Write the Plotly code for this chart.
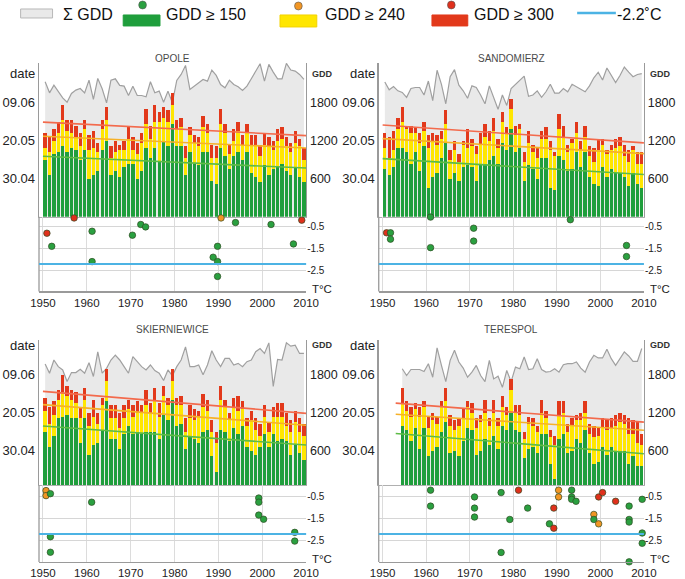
import plotly.graph_objects as go

# ------------------------------------------------------------------ data
YEARS = list(range(1950, 2010))
YEARS_TERESPOL = list(range(1954, 2010))

# day of year on which GDD reached 150 / 240 / 300
OPOLE_D150 = [130,122,133,134,137,134,136,135,130,135, 120,122,124,135,140,122,124,121,126,128,
              128,120,124,136,131,136,129,140,137,149, 137,137,122,134,128,127,134,134,119,117,
              136,132,125,132,134,130,134,123,121,118, 127,122,125,126,128,124,122,126,121,118]
OPOLE_D240 = [136,134,140,144,151,145,144,142,137,146, 135,136,134,146,151,131,134,135,135,141,
              135,133,139,149,141,150,150,152,150,159, 146,147,131,143,139,137,147,144,131,131,
              149,144,133,140,145,138,144,137,138,132, 138,137,135,140,141,137,134,139,137,130]
OPOLE_D300 = [144,142,146,150,159,151,151,148,144,151, 143,145,139,151,158,137,140,138,140,147,
              142,139,144,157,148,159,155,158,156,165, 151,152,137,147,143,142,153,149,138,137,
              157,149,138,146,150,143,149,143,143,138, 144,142,140,146,147,142,139,145,141,136]
OPOLE_GDD = [2133,1958,2080,1985,1879,1810,1948,2001,2027,1958, 2159,1853,2186,2022,1800,2159,2180,2075,2064,1916,
             2064,1916,1916,1895,2133,1958,1985,1810,1985,1800, 2154,2249,2392,2011,2064,2117,2170,2143,2318,2233,
             2090,2038,2159,2090,2053,1995,2064,2180,2302,2418, 2143,2408,2286,2180,2180,2424,2318,2302,2249,2170]
OPOLE_TREND_YEARS = [1950, 2010]
OPOLE_TREND_150 = [131.8, 125.6]
OPOLE_TREND_240 = [142.4, 136.2]
OPOLE_TREND_300 = [149.8, 142.7]
OPOLE_FROST_X = [1950.9,1952.0,1957.1,1961.2,1961.2,1970.4,1972.3,1973.4,1988.8,1989.8,1989.8,1989.8,
                 1990.6,1993.9,2002.0,2007.1,2009.0]
OPOLE_FROST_T = [-0.79,-1.39,-0.09,-0.70,-2.09,-0.88,-0.39,-0.50,-1.89,-1.39,-2.09,-2.77,
                 -0.09,-0.30,-0.39,-1.28,-0.19]
OPOLE_FROST_CLASS = [300,150,300,150,150,150,150,150,150,150,150,150,240,150,150,150,300]

SANDOMIERZ_D150 = [125,122,126,136,136,134,128,134,124,137, 115,121,123,131,139,120,123,119,126,127,
                   126,119,127,128,130,132,128,139,135,146, 134,136,119,127,125,120,131,131,115,114,
                   132,130,124,125,134,126,134,121,117,116, 126,121,125,123,123,121,116,123,117,115]
SANDOMIERZ_D240 = [136,131,135,146,150,146,144,144,139,145, 136,140,138,141,149,130,135,129,138,136,
                   137,133,138,142,140,145,136,150,144,157, 143,146,129,139,134,131,141,141,135,132,
                   146,142,134,139,144,135,142,132,129,135, 138,133,135,136,137,132,129,135,128,128]
SANDOMIERZ_D300 = [144,142,145,152,158,148,148,147,144,150, 143,144,143,145,156,135,140,133,140,146,
                   141,137,144,149,145,152,141,155,147,162, 148,149,134,145,138,136,145,147,140,134,
                   154,148,138,141,150,140,148,137,136,141, 141,135,138,141,142,138,135,137,134,134]
SANDOMIERZ_GDD = [2130,2006,2057,1990,1965,1887,2027,2042,2042,1923, 2145,1836,2315,2093,1785,2212,2325,2078,1990,1872,
                  2068,2042,1923,1785,2068,1887,1697,1923,1759,2027, 2093,2171,2222,1903,1923,1990,1887,1975,2093,1954,
                  1954,2027,1975,2093,2057,2016,1975,2068,2196,2284, 2160,2351,2233,2119,2233,2366,2284,2212,2248,2263]
SANDOMIERZ_TREND_YEARS = [1950, 2010]
SANDOMIERZ_TREND_150 = [130.6, 122.2]
SANDOMIERZ_TREND_240 = [141.1, 133.2]
SANDOMIERZ_TREND_300 = [148.3, 138.9]
SANDOMIERZ_FROST_X = [1950.9,1951.8,1951.8,1961.0,1961.0,1970.9,1970.9,1993.1,2006.0,2006.0]
SANDOMIERZ_FROST_T = [-0.77,-0.77,-1.06,-0.05,-1.45,-0.56,-1.15,-0.17,-1.35,-1.86]
SANDOMIERZ_FROST_CLASS = [300,150,150,150,150,150,150,150,150,150]

SKIERNIEWICE_D150 = [130,122,128,137,138,139,137,137,124,137, 118,123,124,131,146,126,126,121,129,133,
                     129,130,129,130,130,130,126,139,136,147, 133,134,121,127,126,124,130,131,117,109,
                     131,130,125,132,129,133,122,120,118,122, 129,122,129,125,126,125,118,123,119,115]
SKIERNIEWICE_D240 = [141,134,139,147,151,149,147,145,137,147, 133,138,134,144,157,137,137,132,137,142,
                     138,140,140,144,140,146,138,149,144,157, 144,144,130,137,136,138,143,141,130,124,
                     147,143,136,143,141,142,133,136,131,128, 138,130,138,138,138,133,130,135,130,128]
SKIERNIEWICE_D300 = [148,143,146,152,160,154,152,151,143,153, 140,147,140,148,163,144,144,140,144,147,
                     144,146,144,152,145,153,145,154,148,163, 148,149,137,144,142,141,150,147,136,130,
                     154,147,140,148,149,146,137,141,137,134, 144,135,143,145,145,140,136,141,137,134]
SKIERNIEWICE_GDD = [1972,1826,2035,1930,1878,1696,1836,1836,1889,1826, 1993,1774,2165,1826,1904,2035,2113,2035,1930,1826,
                    2087,2009,1930,1878,1956,1868,1826,1711,1878,1784, 1930,2035,2243,1930,1930,1956,1800,1956,2181,2035,
                    1930,2061,2061,1956,1982,1930,2009,2035,2165,2217, 2139,2306,1617,2045,2035,2306,2254,2269,2139,2139]
SKIERNIEWICE_TREND_YEARS = [1950, 2010]
SKIERNIEWICE_TREND_150 = [133.0, 123.0]
SKIERNIEWICE_TREND_240 = [144.3, 133.4]
SKIERNIEWICE_TREND_300 = [151.3, 139.7]
SKIERNIEWICE_FROST_X = [1950.7,1950.7,1951.7,1951.7,1951.7,1961.1,1999.2,1999.2,1999.2,2000.3,
                        2007.4,2007.4,2010.4,2010.4]
SKIERNIEWICE_FROST_T = [-0.21,-0.44,-0.35,-2.32,-3.03,-0.74,-0.55,-0.74,-1.33,-1.52,-2.12,-2.52,-1.04,-1.33]
SKIERNIEWICE_FROST_CLASS = [240,240,150,150,150,150,150,150,150,150,150,150,150,150]

TERESPOL_D150 = [133,131,125,132,121,132,117,120,122,130, 135,119,120,117,125,132,131,118,120,126,
                 123,128,121,133,131,140,131,130,116,121, 122,119,129,129,113,105,126,129,119,120,
                 126,124,131,119,113,114,122,118,122,120, 120,120,113,117,112,112]
TERESPOL_D240 = [145,141,138,142,138,143,132,136,134,143, 146,133,131,133,137,143,140,132,135,140,
                 133,140,133,143,139,152,140,139,126,134, 133,130,140,137,127,123,139,140,130,133,
                 136,136,140,129,127,128,132,131,132,133, 135,134,129,129,124,123]
TERESPOL_D300 = [153,146,143,145,143,146,138,140,138,146, 153,139,136,137,142,146,145,137,139,147,
                 137,147,137,149,143,158,144,144,130,138, 137,133,147,141,131,128,146,146,134,137,
                 139,140,146,134,133,132,137,136,137,139, 140,139,137,136,135,129]
TERESPOL_GDD = [1896,1789,1885,1885,1885,1853,1976,1763,2227,1949, 1693,2029,2189,2003,1907,1763,1843,1949,1789,1693,
                2029,1736,1779,1603,1869,1693,1923,1896,2083,1885, 1896,2056,1885,1843,1853,1896,1843,1960,1976,1976,
                2003,1907,1843,2003,2109,2067,2067,2205,2056,1949, 2067,2163,2099,2013,2013,2216]
TERESPOL_TREND_YEARS = [1953, 2010]
TERESPOL_TREND_150 = [129.1, 118.4]
TERESPOL_TREND_240 = [139.2, 130.8]
TERESPOL_TREND_300 = [145.1, 135.1]
TERESPOL_FROST_X = [1961.0,1961.0,1971.1,1971.1,1971.1,1977.2,1977.2,1979.2,1981.2,1983.3,
                    1988.3,1989.3,1989.3,1990.4,1990.4,1993.4,1993.4,1993.4,1994.4,1998.5,
                    1998.5,1999.6,1999.6,2000.5,2003.5,2006.6,2006.6,2006.6,2006.6,2009.6,2009.6,2009.6]
TERESPOL_FROST_T = [-0.19,-0.92,-0.50,-1.01,-1.42,-0.30,-3.04,-1.53,-0.19,-1.01,
                    -1.73,-1.01,-1.93,-0.19,-0.50,-0.19,-0.50,-0.61,-0.70,-1.30,
                    -1.53,-1.73,-0.50,-0.30,-0.70,-0.92,-1.53,-1.65,-3.47,-0.61,-2.15,-2.62]
TERESPOL_FROST_CLASS = [150,150,150,150,150,150,150,150,300,150,
                        150,300,300,240,240,150,150,150,150,240,
                        150,240,300,300,300,150,150,150,150,150,150,150]

DATE_TICKS = [120, 140, 160]
DATE_LABELS = ["30.04", "20.05", "09.06"]
GDD_TICKS = [600, 1200, 1800]
TEMP_TICKS = [-0.5, -1.5, -2.5]
YEAR_TICKS = [1950, 1960, 1970, 1980, 1990, 2000, 2010]
FROST_LIMIT = -2.2
LEGEND_LABELS = ["\u03a3 GDD", "GDD \u2265 150", "GDD \u2265 240", "GDD \u2265 300", "-2.2\u02daC"]

STATIONS = [
    dict(name="OPOLE", col=0, row=0, years=YEARS, d150=OPOLE_D150, d240=OPOLE_D240, d300=OPOLE_D300,
         gdd=OPOLE_GDD, ty=OPOLE_TREND_YEARS, t150=OPOLE_TREND_150, t240=OPOLE_TREND_240,
         t300=OPOLE_TREND_300, fx=OPOLE_FROST_X, ft=OPOLE_FROST_T, fc=OPOLE_FROST_CLASS),
    dict(name="SANDOMIERZ", col=1, row=0, years=YEARS, d150=SANDOMIERZ_D150, d240=SANDOMIERZ_D240,
         d300=SANDOMIERZ_D300, gdd=SANDOMIERZ_GDD, ty=SANDOMIERZ_TREND_YEARS, t150=SANDOMIERZ_TREND_150,
         t240=SANDOMIERZ_TREND_240, t300=SANDOMIERZ_TREND_300, fx=SANDOMIERZ_FROST_X,
         ft=SANDOMIERZ_FROST_T, fc=SANDOMIERZ_FROST_CLASS),
    dict(name="SKIERNIEWICE", col=0, row=1, years=YEARS, d150=SKIERNIEWICE_D150, d240=SKIERNIEWICE_D240,
         d300=SKIERNIEWICE_D300, gdd=SKIERNIEWICE_GDD, ty=SKIERNIEWICE_TREND_YEARS,
         t150=SKIERNIEWICE_TREND_150, t240=SKIERNIEWICE_TREND_240, t300=SKIERNIEWICE_TREND_300,
         fx=SKIERNIEWICE_FROST_X, ft=SKIERNIEWICE_FROST_T, fc=SKIERNIEWICE_FROST_CLASS),
    dict(name="TERESPOL", col=1, row=1, years=YEARS_TERESPOL, d150=TERESPOL_D150, d240=TERESPOL_D240,
         d300=TERESPOL_D300, gdd=TERESPOL_GDD, ty=TERESPOL_TREND_YEARS, t150=TERESPOL_TREND_150,
         t240=TERESPOL_TREND_240, t300=TERESPOL_TREND_300, fx=TERESPOL_FROST_X,
         ft=TERESPOL_FROST_T, fc=TERESPOL_FROST_CLASS),
]

# ------------------------------------------------------------------ style / geometry
W, H = 685, 579
FONT = "Liberation Sans, Arial, sans-serif"
C_GREEN = "#1f9e3c"
C_YELLOW = "#ffe600"
C_RED = "#e2391b"
C_ORANGE_DOT = "#f29624"
C_RED_DOT = "#e0301c"
C_GREEN_DOT = "#2aa040"
C_AREA = "#e9e9e9"
C_AREA_LINE = "#a0a0a0"
C_BLUE = "#4cb3e4"
C_AXIS = "#9a9a9a"
DOT_COLORS = {150: C_GREEN_DOT, 240: C_ORANGE_DOT, 300: C_RED_DOT}

COLS = [(31, 307), (382, 656)]
ROWS = [
    dict(title_y=59, top=63, mid=217, bot=292, y160=103.0, tref=227.3, tpx=21.85, lab_y=74, tl_y=289),
    dict(title_y=330, top=341, mid=486, bot=563, y160=375.5, tref=497.8, tpx=21.9, lab_y=346, tl_y=560),
]
PX20 = 38.0          # pixels per 20 days (= per 600 GDD)
X_RANGE = [1949.1, 2010.0]


def px(x):
    return x / W


def py(y):
    return 1 - y / H


def ref(prefix, n):
    return prefix if n == 1 else f"{prefix}{n}"


def key(prefix, n):
    return f"{prefix}axis" if n == 1 else f"{prefix}axis{n}"


def label(text, x, y, size, color="#222", xanchor="center"):
    return dict(text=text, x=px(x), y=py(y), xref="paper", yref="paper", xanchor=xanchor,
                yanchor="middle", showarrow=False, font=dict(family=FONT, size=size, color=color))


fig = go.Figure()
layout = {}
shapes = []
annotations = []

for p, st in enumerate(STATIONS):
    c0, c1 = COLS[st["col"]]
    r = ROWS[st["row"]]
    xt, xb = 2 * p + 1, 2 * p + 2
    yg, yd, yt = 3 * p + 1, 3 * p + 2, 3 * p + 3

    def day_at(y):
        return 160 - (y - r["y160"]) * 20 / PX20

    def gdd_at(y):
        return 1800 - (y - r["y160"]) * 600 / PX20

    def temp_at(y):
        return -0.5 - (y - r["tref"]) / r["tpx"]

    xmid = [yr + 0.5 for yr in st["years"]]

    # sum of GDD (grey area)
    fig.add_trace(go.Scatter(x=xmid, y=st["gdd"], mode="lines", fill="tozeroy",
                             fillcolor=C_AREA, line=dict(color=C_AREA_LINE, width=1.2),
                             xaxis=ref("x", xt), yaxis=ref("y", yg), hoverinfo="skip"))
    # stacked bars
    g = st["d150"]
    yel = [b - a for a, b in zip(st["d150"], st["d240"])]
    red = [b - a for a, b in zip(st["d240"], st["d300"])]
    for vals, col in ((g, C_GREEN), (yel, C_YELLOW), (red, C_RED)):
        fig.add_trace(go.Bar(x=xmid, y=vals, width=0.76, marker=dict(color=col, line=dict(width=0)),
                             xaxis=ref("x", xt), yaxis=ref("y", yd), hoverinfo="skip"))
    # trend lines
    for vals, col in ((st["t300"], "#f36a4c"), (st["t240"], "#f6b129"), (st["t150"], "#5dbb46")):
        fig.add_trace(go.Scatter(x=st["ty"], y=vals, mode="lines", line=dict(color=col, width=1.6),
                                 xaxis=ref("x", xt), yaxis=ref("y", yd), hoverinfo="skip"))
    # frost dots
    fig.add_trace(go.Scatter(x=st["fx"], y=st["ft"], mode="markers", cliponaxis=False,
                             marker=dict(size=6.5, color=[DOT_COLORS[c] for c in st["fc"]],
                                         line=dict(color="#2f4a22", width=0.7)),
                             xaxis=ref("x", xb), yaxis=ref("y", yt), hoverinfo="skip"))

    xdom = [px(c0), px(c1)]
    top_dom = [py(r["mid"]), py(r["top"])]
    bot_dom = [py(r["bot"]), py(r["mid"])]
    tick_font = dict(family=FONT, size=13, color="#222")

    layout[key("x", xt)] = dict(domain=xdom, anchor=ref("y", yg), range=X_RANGE, showticklabels=False,
                                showline=True, linecolor="#b0b0b0", linewidth=1, showgrid=False,
                                zeroline=False, ticks="")
    layout[key("y", yg)] = dict(domain=top_dom, anchor=ref("x", xt), side="right",
                                range=[gdd_at(r["mid"]), gdd_at(r["top"])], tickmode="array",
                                tickvals=GDD_TICKS, ticktext=[str(v) for v in GDD_TICKS],
                                showline=True, linecolor=C_AXIS, linewidth=1.3, showgrid=False,
                                zeroline=False, ticks="", tickfont=dict(family=FONT, size=12.5, color="#222"))
    layout[key("y", yd)] = dict(overlaying=ref("y", yg), anchor=ref("x", xt), side="left",
                                range=[day_at(r["mid"]), day_at(r["top"])], tickmode="array",
                                tickvals=DATE_TICKS, ticktext=DATE_LABELS, showline=True,
                                linecolor=C_AXIS, linewidth=1.3, showgrid=False, zeroline=False,
                                ticks="", tickfont=tick_font)
    layout[key("x", xb)] = dict(domain=xdom, anchor=ref("y", yt), range=X_RANGE, tickmode="array",
                                tickvals=YEAR_TICKS, ticktext=[str(v) for v in YEAR_TICKS],
                                showgrid=True, gridcolor="#dcdcdc", gridwidth=1, showline=True,
                                linecolor=C_AXIS, linewidth=1.3, zeroline=False, ticks="",
                                tickfont=dict(family=FONT, size=11.5, color="#222"))
    layout[key("y", yt)] = dict(domain=bot_dom, anchor=ref("x", xb), side="right",
                                range=[temp_at(r["bot"]), temp_at(r["mid"])], tickmode="array",
                                tickvals=TEMP_TICKS, ticktext=[str(v) for v in TEMP_TICKS],
                                showgrid=True, gridcolor="#d6d6d6", gridwidth=1, showline=False,
                                zeroline=False, ticks="", tickfont=dict(family=FONT, size=10, color="#222"))

    # left border of lower panel and the -2.2 C line
    shapes.append(dict(type="line", xref=ref("x", xb) + " domain", yref=ref("y", yt) + " domain",
                       x0=0, x1=0, y0=0, y1=1, line=dict(color=C_AXIS, width=1.3)))
    shapes.append(dict(type="line", xref=ref("x", xb) + " domain", yref=ref("y", yt),
                       x0=0, x1=1, y0=FROST_LIMIT, y1=FROST_LIMIT, line=dict(color=C_BLUE, width=2)))

    annotations += [
        label(st["name"], (c0 + c1) / 2, r["title_y"], 10, "#4a4a4a"),
        label("date", c0 - 17, r["lab_y"], 13),
        label("<b>GDD</b>", c1 + 17, r["lab_y"], 9, "#333"),
        label("T\u00b0C", c1 + 4, r["tl_y"], 11.5, xanchor="left"),
    ]

# ------------------------------------------------------------------ legend (drawn manually)
def rect(x0, x1, y0, y1, fill, line=None):
    shapes.append(dict(type="rect", xref="paper", yref="paper", x0=px(x0), x1=px(x1), y0=py(y1), y1=py(y0),
                       fillcolor=fill, line=dict(color=line or fill, width=1)))


def dot(cx, cy, rad, fill):
    shapes.append(dict(type="circle", xref="paper", yref="paper", x0=px(cx - rad), x1=px(cx + rad),
                       y0=py(cy + rad), y1=py(cy - rad), fillcolor=fill, line=dict(color="#555", width=0.6)))


def legend_text(x, s):
    annotations.append(label(s, x, 15, 16, "#111", xanchor="left"))


rect(12, 45, 9, 18, C_AREA, "#b8b8b8")
legend_text(54, LEGEND_LABELS[0])
rect(118, 156, 15, 26, C_GREEN)
dot(138, 5, 4, C_GREEN_DOT)
legend_text(160, LEGEND_LABELS[1])
rect(280, 318, 15, 27, C_YELLOW, "#f3d200")
dot(299, 6, 4, C_ORANGE_DOT)
legend_text(324, LEGEND_LABELS[2])
rect(437, 474, 15, 26, C_RED)
dot(457, 5, 4, C_RED_DOT)
legend_text(478, LEGEND_LABELS[3])
shapes.append(dict(type="line", xref="paper", yref="paper", x0=px(587), x1=px(627), y0=py(13), y1=py(13),
                   line=dict(color=C_BLUE, width=2.5)))
legend_text(626, LEGEND_LABELS[4])

fig.update_layout(
    width=W, height=H, margin=dict(l=0, r=0, t=0, b=0, pad=0),
    paper_bgcolor="white", plot_bgcolor="rgba(0,0,0,0)",
    showlegend=False, barmode="stack", font=dict(family=FONT),
    shapes=shapes, annotations=annotations, **layout,
)

fig.write_html("out.html", config={"displayModeBar": False, "staticPlot": True},
               post_script="document.body.style.margin='0';document.body.style.overflow='hidden';")
